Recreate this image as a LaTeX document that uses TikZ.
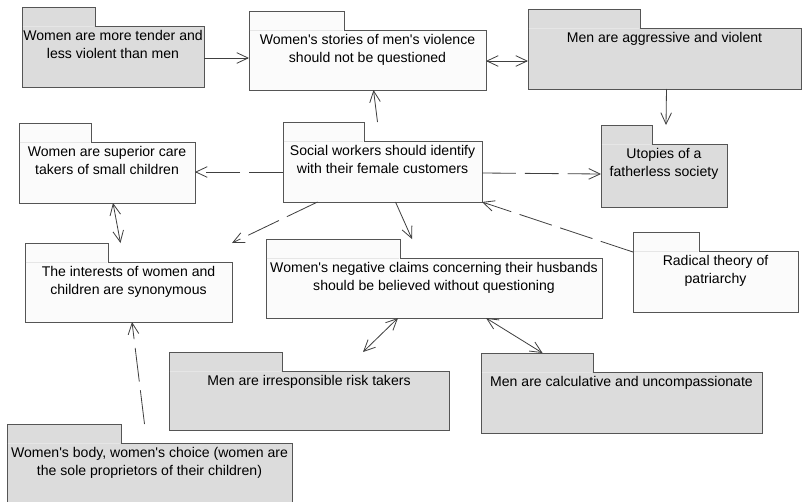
\documentclass[tikz,border=0pt]{standalone}
\usepackage{fontspec}
\setmainfont{Liberation Sans}[Ligatures=TeXOff]
\usetikzlibrary{arrows.meta,fit,calc}
\definecolor{pkggray}{RGB}{220,220,220}
\definecolor{pkgwhite}{RGB}{251,251,251}
\definecolor{edge}{RGB}{85,85,85}
\definecolor{seam}{RGB}{230,230,230}

\begin{document}
\begin{tikzpicture}[
  x=0.03cm, y=-0.03cm,
  >={Straight Barb[length=3.4mm,width=3.2mm]},
  pkg/.style={inner sep=0pt,outer sep=0pt},
  txt/.style={anchor=north,align=center,inner sep=0pt,
              font=\fontsize{12}{15.4}\selectfont},
  outline/.style={draw=edge,line width=0.8pt},
  flow/.style={->,line width=0.7pt,draw=black!75},
  both/.style={<->,line width=0.7pt,draw=black!75},
  dep/.style={flow,dash pattern=on 29pt off 7.5pt},
]
\useasboundingbox (0,0) rectangle (803,502);
% ---------- package frames (tab top to body bottom) ----------
\node[pkg,fit={(22,7) (204,87)}] (tender) {};
\node[pkg,fit={(249,11) (486,90)}] (stories) {};
\node[pkg,fit={(528,9) (801,89)}] (aggressive) {};
\node[pkg,fit={(601,125) (727,207)}] (utopia) {};
\node[pkg,fit={(19,123) (195,203)}] (superior) {};
\node[pkg,fit={(283,122) (482,202)}] (social) {};
\node[pkg,fit={(25,243) (232,322)}] (interests) {};
\node[pkg,fit={(266,239) (602,318)}] (claims) {};
\node[pkg,fit={(633,232) (798,312)}] (radical) {};
\node[pkg,fit={(169,352) (449,430)}] (irresp) {};
\node[pkg,fit={(481,353) (762,433)}] (calc) {};
\node[pkg,fit={(7,424) (292,530)}] (body) {};
% folder outline: tab on the upper left, light seam under the tab
\foreach \n/\w/\c in {tender/73/pkggray,stories/95/pkgwhite,aggressive/112/pkggray,
                      utopia/51/pkggray,superior/72/pkgwhite,social/81/pkgwhite,
                      interests/83/pkgwhite,claims/134/pkgwhite,radical/66/pkgwhite,
                      irresp/113/pkggray,calc/112/pkggray,body/114/pkggray}{
  \draw[outline,fill=\c] (\n.south west) |- ($(\n.north west)+(\w,0)$)
        |- ($(\n.north east)+(0,19)$) |- (\n.south west) -- cycle;
  \draw[seam,line width=0.6pt] ($(\n.north west)+(0.6,19)$) -- ++(\w-1.2,0);
}
% ---------- texts ----------
\node[txt] (tender-t) at ($(tender.north)+(0,23)$) {Women are more tender and\\less violent than men};
\node[txt] (stories-t) at ($(stories.north)+(0,23)$) {Women's stories of men's violence\\should not be questioned};
\node[txt] (aggressive-t) at ($(aggressive.north)+(0,23)$) {Men are aggressive and violent};
\node[txt] (utopia-t) at ($(utopia.north)+(0,23)$) {Utopies of a\\fatherless society};
\node[txt] (superior-t) at ($(superior.north)+(0,23)$) {Women are superior care\\takers of small children};
\node[txt] (social-t) at ($(social.north)+(0,23)$) {Social workers should identify\\with their female customers};
\node[txt] (interests-t) at ($(interests.north)+(0,23)$) {The interests of women and\\children are synonymous};
\node[txt] (claims-t) at ($(claims.north)+(0,23)$) {Women's negative claims concerning their husbands\\should be believed without questioning};
\node[txt] (radical-t) at ($(radical.north)+(0,23)$) {Radical theory of\\patriarchy};
\node[txt] (irresp-t) at ($(irresp.north)+(0,23)$) {Men are irresponsible risk takers};
\node[txt] (calc-t) at ($(calc.north)+(0,23)$) {Men are calculative and uncompassionate};
\node[txt] (body-t) at ($(body.north)+(0,23)$) {Women's body, women's choice (women are\\the sole proprietors of their children)};
% =================== edges ===================
\draw[flow] ($(tender.east)+(0,11)$) -- ($(stories.west)+(0,7.5)$);
\draw[both] ($(stories.east)+(0,10.5)$) -- ($(aggressive.west)+(0,12)$);
\draw[flow] ($(aggressive.south)+(2,0)$) -- ($(utopia.north)+(2,0)$);
\draw[flow] ($(social.north)+(-5,0)$) -- ($(stories.south)+(6,0)$);
\draw[dep] ($(social.west)+(0,10)$) -- ($(superior.east)+(0,9)$);
\draw[dep] ($(social.east)+(0,11)$) -- ($(utopia.west)+(0,8)$);
\draw[dep] ($(social.south)+(-65,0)$) -- (interests.north east);
\draw[flow] ($(social.south)+(13,0)$) -- ($(claims.north)+(-22,0)$);
\draw[dep] ($(radical.west)+(0,-20)$) -- (social.south east);
\draw[both] ($(superior.south)+(6,0)$) -- ($(interests.north)+(-8,0)$);
\draw[dep] ($(body.north)+(-5,0)$) -- ($(interests.south)+(3.5,0)$);
\draw[both] ($(claims.south)+(-36,0)$) -- ($(irresp.north)+(54,0)$);
\draw[both] ($(claims.south)+(52,0)$) -- ($(calc.north)+(-79,0)$);
\end{tikzpicture}
\end{document}
